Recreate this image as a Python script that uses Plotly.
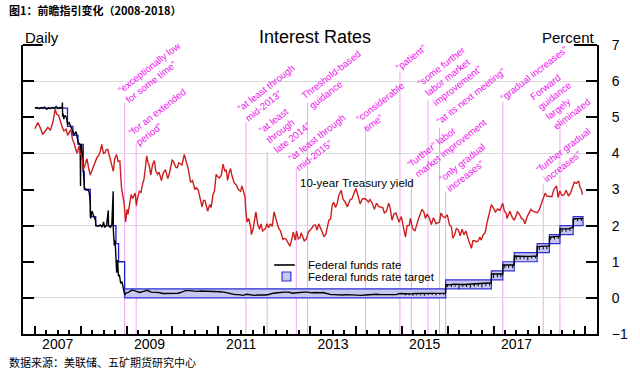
import plotly.graph_objects as go
import pandas as pd
import numpy as np

# ---------------- DATA ----------------
# 10-year Treasury yield (percent)
t10_dates = [
"2007-01-02","2007-01-25","2007-02-15","2007-03-05","2007-03-25","2007-04-15","2007-05-05","2007-05-25",
"2007-06-12","2007-06-25","2007-07-10","2007-07-20","2007-08-05","2007-08-20","2007-09-07","2007-09-20",
"2007-10-01","2007-10-15","2007-10-27","2007-11-10","2007-11-22","2007-12-05","2007-12-18","2007-12-28",
"2008-01-12","2008-01-23","2008-02-07","2008-02-20","2008-03-07","2008-03-17","2008-03-28","2008-04-13",
"2008-04-25","2008-05-09","2008-05-25","2008-06-05","2008-06-17","2008-06-30","2008-07-13","2008-07-22",
"2008-08-04","2008-08-23","2008-09-05","2008-09-17","2008-09-28","2008-10-13","2008-10-25","2008-11-08",
"2008-11-21","2008-12-05","2008-12-13","2008-12-24","2009-01-05","2009-01-12","2009-01-25","2009-02-06",
"2009-02-18","2009-03-10","2009-03-20","2009-03-25","2009-04-12","2009-04-25","2009-05-08","2009-05-20",
"2009-06-03","2009-06-10","2009-06-20","2009-07-01","2009-07-12","2009-07-27","2009-08-10","2009-08-21",
"2009-09-05","2009-09-16","2009-10-05","2009-10-20","2009-11-06","2009-11-25","2009-12-08","2009-12-17",
"2009-12-30","2010-01-12","2010-01-26","2010-02-08","2010-02-20","2010-03-10","2010-03-18","2010-04-05",
"2010-04-20","2010-05-08","2010-05-25","2010-06-10","2010-06-28","2010-07-10","2010-07-26","2010-08-10",
"2010-08-24","2010-09-05","2010-09-16","2010-09-30","2010-10-08","2010-10-24","2010-11-04","2010-11-20",
"2010-12-01","2010-12-15","2010-12-28","2011-01-10","2011-01-25","2011-02-08","2011-02-22","2011-03-05",
"2011-03-16","2011-03-28","2011-04-08","2011-04-20","2011-05-07","2011-05-25","2011-06-10","2011-06-27",
"2011-07-08","2011-07-20","2011-08-01","2011-08-08","2011-08-18","2011-08-30","2011-09-15","2011-09-22",
"2011-10-05","2011-10-27","2011-11-10","2011-11-25","2011-12-07","2011-12-20","2012-01-11","2012-01-25",
"2012-02-06","2012-02-20","2012-03-05","2012-03-20","2012-04-05","2012-04-23","2012-05-10","2012-05-30",
"2012-06-13","2012-06-25","2012-07-10","2012-07-24","2012-08-10","2012-08-20","2012-09-05","2012-09-15",
"2012-09-28","2012-10-12","2012-10-22","2012-11-05","2012-11-15","2012-12-01","2012-12-18","2013-01-08",
"2013-01-28","2013-02-12","2013-02-25","2013-03-10","2013-03-28","2013-04-10","2013-04-22","2013-05-05",
"2013-05-18","2013-05-30","2013-06-13","2013-06-25","2013-07-08","2013-07-22","2013-08-05","2013-08-17",
"2013-09-05","2013-09-20","2013-10-07","2013-10-25","2013-11-16","2013-11-30","2013-12-15","2013-12-31",
"2014-01-15","2014-02-03","2014-02-20","2014-03-10","2014-03-25","2014-04-10","2014-04-23","2014-05-10",
"2014-05-28","2014-06-13","2014-06-30","2014-07-15","2014-08-03","2014-08-15","2014-09-01","2014-09-18",
"2014-09-30","2014-10-15","2014-10-30","2014-11-15","2014-11-30","2014-12-10","2014-12-28","2015-01-10",
"2015-01-30","2015-02-12","2015-03-01","2015-03-10","2015-03-28","2015-04-15","2015-05-03","2015-05-15",
"2015-06-10","2015-06-25","2015-07-08","2015-07-22","2015-08-10","2015-08-24","2015-09-10","2015-09-30",
"2015-10-10","2015-10-28","2015-11-09","2015-11-25","2015-12-10","2015-12-29","2016-01-15","2016-02-01",
"2016-02-11","2016-02-25","2016-03-10","2016-03-25","2016-04-10","2016-04-25","2016-05-10","2016-05-25",
"2016-06-13","2016-06-27","2016-07-08","2016-07-20","2016-08-05","2016-08-17","2016-09-01","2016-09-12",
"2016-09-24","2016-10-10","2016-10-25","2016-11-09","2016-11-28","2016-12-14","2016-12-28","2017-01-15",
"2017-02-02","2017-02-20","2017-03-14","2017-03-28","2017-04-10","2017-04-18","2017-05-10","2017-05-30",
"2017-06-14","2017-06-30","2017-07-10","2017-07-25","2017-08-10","2017-08-25","2017-09-08","2017-09-25",
"2017-10-10","2017-10-25","2017-11-10","2017-11-29","2017-12-15","2017-12-28","2018-01-10","2018-01-25",
"2018-02-15","2018-03-01","2018-03-25","2018-04-10","2018-04-25","2018-05-17","2018-05-29","2018-06-12",
"2018-06-28","2018-07-15","2018-08-01","2018-08-20","2018-09-05","2018-09-20","2018-10-05","2018-10-22",
"2018-11-08","2018-11-20","2018-11-30","2018-12-10"]
t10_values = [
4.68,4.85,4.70,4.52,4.62,4.72,4.64,4.86,
5.22,5.08,5.05,4.92,4.75,4.62,4.67,4.50,
4.57,4.66,4.40,4.28,4.12,4.00,4.20,4.02,
3.88,3.55,3.70,3.85,3.56,3.40,3.50,3.65,
3.80,3.88,3.95,4.06,4.25,4.00,4.02,4.10,
4.11,3.83,3.70,3.50,3.85,3.97,3.78,3.79,
3.05,2.70,2.58,2.10,2.45,2.31,2.60,2.86,
2.75,2.90,2.55,2.70,2.95,2.92,3.14,3.30,
3.70,3.93,3.75,3.65,3.40,3.69,3.80,3.51,
3.42,3.48,3.25,3.46,3.55,3.30,3.45,3.65,
3.83,3.75,3.62,3.60,3.74,3.70,3.68,3.97,
3.78,3.55,3.20,3.25,3.00,3.05,2.98,2.75,
2.52,2.70,2.70,2.52,2.40,2.58,2.50,2.86,
2.95,3.42,3.35,3.32,3.40,3.70,3.50,3.55,
3.25,3.46,3.58,3.38,3.19,3.12,3.00,2.95,
3.10,2.95,2.80,2.40,2.10,2.20,1.98,1.75,
1.90,2.38,2.05,1.90,2.05,1.85,1.92,2.05,
1.94,2.05,1.98,2.38,2.18,1.95,1.85,1.62,
1.65,1.62,1.52,1.43,1.65,1.82,1.60,1.85,
1.63,1.66,1.80,1.68,1.58,1.62,1.82,1.90,
2.00,2.02,1.88,2.05,1.87,1.80,1.70,1.75,
1.95,2.15,2.18,2.55,2.65,2.50,2.62,2.83,
2.98,2.73,2.65,2.52,2.72,2.74,2.88,3.03,
2.86,2.60,2.74,2.75,2.72,2.65,2.72,2.62,
2.45,2.62,2.53,2.52,2.49,2.35,2.40,2.62,
2.50,2.15,2.32,2.35,2.18,2.10,2.25,1.98,
1.68,2.00,2.00,2.20,1.92,1.85,2.10,2.20,
2.45,2.38,2.20,2.32,2.20,2.03,2.22,2.05,
2.07,2.10,2.35,2.25,2.22,2.30,2.03,1.95,
1.65,1.74,1.92,1.89,1.72,1.90,1.75,1.85,
1.62,1.45,1.37,1.58,1.58,1.55,1.58,1.68,
1.60,1.75,1.80,2.07,2.35,2.58,2.50,2.38,
2.46,2.42,2.62,2.40,2.35,2.20,2.40,2.22,
2.15,2.30,2.38,2.32,2.20,2.17,2.05,2.25,
2.35,2.45,2.40,2.37,2.36,2.42,2.55,2.65,
2.90,2.82,2.81,2.80,3.00,3.10,2.78,2.96,
2.84,2.85,2.98,2.82,2.90,3.07,3.20,3.17,
3.24,3.06,3.00,2.86]

# Effective federal funds rate (percent)
effr_dates = [
"2007-01-02","2007-01-20","2007-02-05","2007-02-20","2007-03-05","2007-03-20","2007-04-05","2007-04-20",
"2007-05-05","2007-05-20","2007-06-05","2007-06-20","2007-07-05","2007-07-20","2007-08-06","2007-08-09",
"2007-08-10","2007-08-14","2007-08-20","2007-08-28","2007-09-10","2007-09-19","2007-10-01","2007-10-15",
"2007-10-31","2007-11-10","2007-11-26","2007-12-05","2007-12-12","2007-12-28","2007-12-31","2008-01-02",
"2008-01-10","2008-01-22","2008-01-24","2008-01-31","2008-02-15","2008-02-28","2008-03-10","2008-03-18",
"2008-03-20","2008-04-01","2008-04-15","2008-04-28","2008-05-01","2008-05-20","2008-06-05","2008-06-20",
"2008-07-01","2008-07-10","2008-07-25","2008-08-08","2008-08-10","2008-08-25","2008-09-05","2008-09-15",
"2008-09-16","2008-09-17","2008-09-25","2008-10-01","2008-10-09","2008-10-14","2008-10-21","2008-10-28",
"2008-11-05","2008-11-15","2008-11-25","2008-12-05","2008-12-16","2008-12-31",
"2009-01-15","2009-02-15","2009-03-15","2009-04-15","2009-05-15","2009-06-15","2009-07-15","2009-08-15",
"2009-09-15","2009-10-15","2009-11-15","2009-12-15","2010-01-15","2010-02-15","2010-03-15","2010-04-15",
"2010-05-15","2010-06-15","2010-07-15","2010-08-15","2010-09-15","2010-10-15","2010-11-15","2010-12-15",
"2011-01-15","2011-02-15","2011-03-15","2011-04-15","2011-05-15","2011-06-15","2011-07-15","2011-08-15",
"2011-09-15","2011-10-15","2011-11-15","2011-12-15","2012-01-15","2012-02-15","2012-03-15","2012-04-15",
"2012-05-15","2012-06-15","2012-07-15","2012-08-15","2012-09-15","2012-10-15","2012-11-15","2012-12-15",
"2013-01-15","2013-02-15","2013-03-15","2013-04-15","2013-05-15","2013-06-15","2013-07-15","2013-08-15",
"2013-09-15","2013-10-15","2013-11-15","2013-12-15","2014-01-15","2014-02-15","2014-03-15","2014-04-15",
"2014-05-15","2014-06-15","2014-07-15","2014-08-15","2014-09-15","2014-10-15","2014-11-15","2014-12-15",
"2015-01-15","2015-02-15","2015-03-15","2015-04-15","2015-05-15","2015-06-15","2015-07-15","2015-08-15",
"2015-09-15","2015-10-15","2015-11-15","2015-12-15","2015-12-17","2016-01-15","2016-02-15","2016-03-15",
"2016-04-15","2016-05-15","2016-06-15","2016-07-15","2016-08-15","2016-09-15","2016-10-15","2016-11-15",
"2016-12-13","2016-12-15","2017-01-15","2017-02-15","2017-03-14","2017-03-16","2017-04-15","2017-05-15",
"2017-06-13","2017-06-15","2017-07-15","2017-08-15","2017-09-15","2017-10-15","2017-11-15","2017-12-13",
"2017-12-14","2018-01-15","2018-02-15","2018-03-21","2018-03-22","2018-04-15","2018-05-15","2018-06-13",
"2018-06-14","2018-07-15","2018-08-15","2018-09-26","2018-09-27","2018-10-15","2018-11-15","2018-12-14"]
effr_values = [
5.25,5.27,5.24,5.27,5.25,5.28,5.22,5.26,
5.24,5.27,5.25,5.30,5.24,5.27,5.26,5.41,
5.02,5.10,4.95,5.05,5.00,4.80,4.85,4.72,
4.60,4.52,4.60,4.45,4.30,4.25,3.10,4.25,
4.20,3.50,3.50,3.05,2.98,3.00,2.90,2.60,
2.20,2.40,2.25,2.15,2.00,1.98,2.02,1.96,
2.10,1.95,2.00,2.42,2.00,1.95,2.02,2.70,
2.95,1.90,1.45,1.60,0.95,0.70,1.05,0.60,
0.62,0.40,0.45,0.22,0.09,0.14,
0.15,0.22,0.18,0.15,0.18,0.21,0.16,0.16,
0.15,0.12,0.12,0.12,0.11,0.13,0.16,0.20,
0.20,0.18,0.18,0.19,0.19,0.19,0.19,0.18,
0.17,0.16,0.14,0.10,0.09,0.09,0.07,0.10,
0.08,0.07,0.08,0.07,0.08,0.10,0.13,0.14,
0.16,0.16,0.16,0.13,0.14,0.16,0.16,0.16,
0.14,0.15,0.14,0.15,0.11,0.09,0.09,0.08,
0.08,0.09,0.08,0.09,0.07,0.07,0.08,0.09,
0.09,0.10,0.09,0.09,0.09,0.09,0.09,0.12,
0.11,0.11,0.11,0.12,0.12,0.13,0.13,0.14,
0.14,0.12,0.12,0.13,0.37,0.36,0.38,0.37,
0.37,0.37,0.38,0.39,0.40,0.40,0.40,0.41,
0.41,0.66,0.66,0.66,0.66,0.91,0.91,0.91,
0.91,1.16,1.15,1.16,1.15,1.15,1.16,1.16,
1.42,1.42,1.42,1.44,1.68,1.69,1.70,1.71,
1.91,1.91,1.91,1.95,2.18,2.19,2.20,2.20]

# Month-end dips of the effective rate
dip_months = [
"2015-01","2015-02","2015-03","2015-04","2015-05","2015-06","2015-07","2015-08","2015-09","2015-10","2015-11","2015-12",
"2016-01","2016-02","2016-03","2016-04","2016-05","2016-06","2016-07","2016-08","2016-09","2016-10","2016-11","2016-12",
"2017-01","2017-02","2017-03","2017-04","2017-05","2017-06","2017-07","2017-08","2017-09","2017-10","2017-11","2017-12",
"2018-01","2018-02","2018-03","2018-04","2018-05","2018-06","2018-07","2018-08","2018-09","2018-10","2018-11"]
dip_values = [
0.07,0.07,0.06,0.07,0.07,0.06,0.08,0.08,0.07,0.08,0.08,0.30,
0.30,0.31,0.25,0.30,0.30,0.28,0.31,0.32,0.29,0.33,0.34,0.55,
0.57,0.57,0.82,0.83,0.83,1.06,1.07,1.08,1.04,1.09,1.10,1.33,
1.34,1.35,1.61,1.62,1.63,1.82,1.83,1.85,2.09,2.12,2.13]

# Federal funds target rate (single value, before the range era)
target_dates = ["2007-01-02","2007-09-18","2007-10-31","2007-12-11","2008-01-22","2008-01-30",
                "2008-03-18","2008-04-30","2008-10-08","2008-10-29","2008-12-16"]
target_values = [5.25,4.75,4.50,4.25,3.50,3.00,2.25,2.00,1.50,1.00,1.00]

# Federal funds target range
range_starts = ["2008-12-16","2015-12-16","2016-12-14","2017-03-15","2017-06-14",
                "2017-12-13","2018-03-21","2018-06-13","2018-09-26"]
range_lows = [0.00,0.25,0.50,0.75,1.00,1.25,1.50,1.75,2.00]
range_highs = [0.25,0.50,0.75,1.00,1.25,1.50,1.75,2.00,2.25]
range_end = "2018-12-14"

# Forward-guidance events
guidance_dates = ["2008-12-16","2009-03-18","2011-08-09","2012-01-25","2012-09-13","2012-12-12",
                  "2014-03-19","2014-12-17","2015-03-18","2015-07-29","2015-10-28","2015-12-16",
                  "2017-03-15","2018-06-13","2018-01-31"]
guidance_labels = [
    "“exceptionally low<br>for some time”",
    "“for an extended<br>period”",
    "“at least through<br>mid-2013”",
    "“at least<br>through<br>late 2014”",
    "“at least through<br>mid-2015”",
    "Threshold-based<br>guidance",
    "“considerable<br>time”",
    "“patient”",
    "“further” labor<br>market improvement",
    "“some further<br>labor market<br>improvement”",
    "“at its next meeting”",
    "“only gradual<br>increases”",
    "“gradual increases”",
    "Forward<br>guidance<br>largely<br>eliminated",
    "“further gradual<br>increases”"]
guidance_line_tops = [5.40,4.29,4.88,4.04,3.60,5.40,4.74,6.26,3.32,5.46,4.71,2.94,5.43,4.85,3.16]

year_labels = ["2007","2009","2011","2013","2015","2017"]

# ---------------- STYLE / LAYOUT ----------------
label_offsets = [(28,30),(25,26),(24,29),(17,24),(24,25),(27,23),(18.5,20),(11,14.5),
                 (36,35),(21,25),(31,31),(20,24),(31,28),(0,24),(24,29)]
FONT = "Liberation Sans, Arial, Helvetica, sans-serif"
X_RANGE = ["2006-09-29", "2019-04-04"]
Y_RANGE = [-1, 7]

fig = go.Figure()

# target range rectangles
bx, by = [], []
for i, s in enumerate(range_starts):
    e = range_starts[i + 1] if i + 1 < len(range_starts) else range_end
    lo, hi = range_lows[i], range_highs[i]
    bx += [s, e, e, s, s, None]
    by += [lo, lo, hi, hi, lo, None]
fig.add_trace(go.Scatter(x=bx, y=by, mode="lines", fill="toself", fillcolor="#c6c6f0",
                         line=dict(color="#2f2fd6", width=1.2), name="Federal funds rate target",
                         showlegend=False, hoverinfo="skip"))
# single target before range era
fig.add_trace(go.Scatter(x=target_dates + [range_starts[0]], y=target_values + [range_highs[0]],
                         mode="lines", line=dict(color="#1c1cc4", width=1.3, shape="hv"),
                         showlegend=False, hoverinfo="skip"))

# effective rate
fig.add_trace(go.Scatter(x=effr_dates, y=effr_values, mode="lines",
                         line=dict(color="black", width=1.4), name="Federal funds rate",
                         showlegend=False))
# month-end dips
et = pd.to_datetime(effr_dates).values.astype("datetime64[D]").astype(float)
dx, dy = [], []
for m, v in zip(dip_months, dip_values):
    d = pd.Period(m, "M").end_time.normalize()
    lvl = float(np.interp(np.datetime64(d.date()).astype("datetime64[D]").astype(float), et, effr_values))
    dx += [d, d, None]
    dy += [lvl, v, None]
fig.add_trace(go.Scatter(x=dx, y=dy, mode="lines", line=dict(color="black", width=1),
                         showlegend=False, hoverinfo="skip"))

# 10-year yield
fig.add_trace(go.Scatter(x=t10_dates, y=t10_values, mode="lines",
                         line=dict(color="#cc1e1e", width=1.4), name="10-year Treasury yield",
                         showlegend=False))

# dummy trace for secondary axes
fig.add_trace(go.Scatter(x=[t10_dates[0]], y=[None], xaxis="x2", yaxis="y2",
                         showlegend=False, hoverinfo="skip"))

shapes = []
for d, top in zip(guidance_dates, guidance_line_tops):
    shapes.append(dict(type="line", xref="x", yref="y", x0=d, x1=d, y0=Y_RANGE[0], y1=top,
                       line=dict(color="#f0a6f0", width=1), layer="below"))
# top corner ticks
shapes.append(dict(type="line", xref="paper", yref="paper", x0=0, x1=0.034, y0=1, y1=1,
                   line=dict(color="black", width=2)))
shapes.append(dict(type="line", xref="paper", yref="paper", x0=0.96, x1=1, y0=1, y1=1,
                   line=dict(color="black", width=2)))
# legend (manual)
shapes.append(dict(type="line", xref="paper", yref="paper", x0=0.4376, x1=0.4735, y0=0.2388, y1=0.2388,
                   line=dict(color="black", width=1.6)))
shapes.append(dict(type="rect", xref="paper", yref="paper", x0=0.4513, x1=0.4667, y0=0.1834, y1=0.2145,
                   line=dict(color="#2f2fd6", width=1.2), fillcolor="#c6c6f0"))

ann = []
for d, top, lab, (sx, sy) in zip(guidance_dates, guidance_line_tops, guidance_labels, label_offsets):
    ann.append(dict(x=d, y=top, xref="x", yref="y", text=lab, showarrow=False, textangle=-38,
                    xanchor="center", yanchor="middle", align="left", xshift=sx, yshift=sy,
                    font=dict(family=FONT, size=9.6, color="#f010f0")))
ann += [
    dict(x=0.4923, y=0.2388, xref="paper", yref="paper", text="Federal funds rate", showarrow=False,
         xanchor="left", yanchor="middle", font=dict(family=FONT, size=11.5, color="black")),
    dict(x=0.4923, y=0.1972, xref="paper", yref="paper", text="Federal funds rate target", showarrow=False,
         xanchor="left", yanchor="middle", font=dict(family=FONT, size=11.5, color="black")),
    dict(x=0.5812, y=0.5242, xref="paper", yref="paper", text="10-year Treasury yield", showarrow=False,
         xanchor="center", yanchor="middle", font=dict(family=FONT, size=11.5, color="black")),
    dict(x=0.5085, y=1.026, xref="paper", yref="paper", text="Interest Rates", showarrow=False,
         xanchor="center", yanchor="middle", font=dict(family=FONT, size=18, color="black")),
    dict(x=0.0, y=1.026, xref="paper", yref="paper", text="Daily", showarrow=False,
         xanchor="left", yanchor="middle", font=dict(family=FONT, size=15, color="black")),
    dict(x=1.0, y=1.026, xref="paper", yref="paper", text="Percent", showarrow=False,
         xanchor="right", yanchor="middle", font=dict(family=FONT, size=15, color="black")),
    dict(x=-0.0274, y=1.121, xref="paper", yref="paper", text="<b>图1：前瞻指引变化（2008-2018）</b>",
         showarrow=False, xanchor="left", yanchor="middle",
         font=dict(family="Noto Sans CJK SC", size=11, color="black")),
    dict(x=-0.0274, y=-0.0969, xref="paper", yref="paper", text="数据来源：美联储、五矿期货研究中心",
         showarrow=False, xanchor="left", yanchor="middle",
         font=dict(family="Noto Sans CJK SC", size=11, color="black")),
]

fig.update_layout(
    width=640, height=376, margin=dict(l=23, r=32, t=45, b=42), autosize=False,
    paper_bgcolor="white", plot_bgcolor="white", showlegend=False,
    font=dict(family=FONT, color="black"),
    shapes=shapes, annotations=ann,
    xaxis=dict(type="date", range=X_RANGE, tickmode="linear", tick0="2007-01-01", dtick="M12",
               ticks="inside", ticklen=8, tickwidth=2, tickcolor="black", showticklabels=False,
               showline=True, linewidth=2, linecolor="black", showgrid=False, zeroline=False,
               minor=dict(dtick="M3", tick0="2007-01-01", ticks="inside", ticklen=4, tickwidth=1.5,
                          tickcolor="black", showgrid=False)),
    xaxis2=dict(type="date", range=X_RANGE, overlaying="x", anchor="y", side="bottom",
                tickmode="array", tickvals=[f"{y}-07-02" for y in year_labels], ticktext=year_labels,
                ticks="", showline=False, showgrid=False, zeroline=False,
                tickfont=dict(family=FONT, size=14, color="black")),
    yaxis=dict(range=Y_RANGE, tickmode="linear", tick0=0, dtick=2, ticks="inside", ticklen=11,
               tickwidth=2, tickcolor="black", showticklabels=False, showline=True, linewidth=2,
               linecolor="black", showgrid=True, gridcolor="#d9d9d9", gridwidth=1, zeroline=False,
               minor=dict(dtick=1, tick0=0, ticks="inside", ticklen=11, tickwidth=2, tickcolor="black",
                          showgrid=False)),
    yaxis2=dict(range=Y_RANGE, overlaying="y", side="right", anchor="x", tickmode="linear", tick0=0,
                dtick=1, ticks="inside", ticklen=11, tickwidth=2, tickcolor="black", showline=True,
                linewidth=2, linecolor="black", showgrid=False, zeroline=False, ticklabelstandoff=10,
                tickfont=dict(family=FONT, size=14, color="black")),
)

post = ("document.documentElement.style.margin='0';document.documentElement.style.overflow='hidden';"
        "document.body.style.margin='0';document.body.style.padding='0';document.body.style.overflow='hidden';"
        "var gd=document.getElementById('{plot_id}');Plotly.relayout(gd,{width:640,height:376});")
fig.write_html("out.html", config={"responsive": False, "displayModeBar": False}, post_script=post)
